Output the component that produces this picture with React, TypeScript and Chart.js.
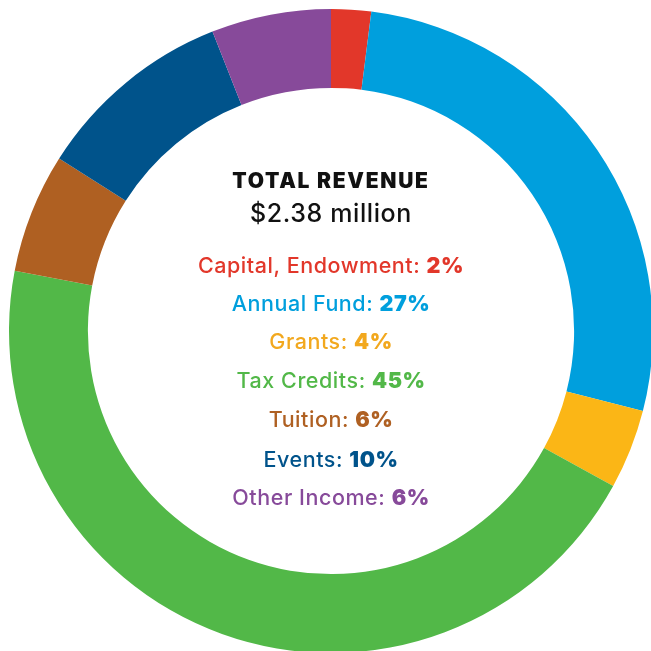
import React, { useEffect, useRef } from "react";
import { Chart, registerables } from "chart.js";

Chart.register(...registerables);

const categories = ["Capital, Endowment", "Annual Fund", "Grants", "Tax Credits", "Tuition", "Events", "Other Income"];
const shares = [2, 27, 4, 45, 6, 10, 6];
const colors = ["#E2372A", "#009FDD", "#FBB616", "#52B848", "#AF6022", "#00538B", "#874A9A"];
const textColors = ["#E2372A", "#009FDD", "#F2A81E", "#52B848", "#AF6022", "#00538B", "#874A9A"];
const title = "TOTAL REVENUE";
const total = "$2.38 million";

const FONT = "Inter, 'Noto Sans', sans-serif";

export default function App() {
  const ref = useRef<HTMLCanvasElement | null>(null);

  useEffect(() => {
    if (!ref.current) return;
    const chart = new Chart(ref.current, {
      type: "doughnut",
      data: {
        labels: categories,
        datasets: [
          {
            data: shares,
            backgroundColor: colors,
            borderWidth: 0,
            hoverOffset: 0,
          },
        ],
      },
      options: {
        animation: false,
        responsive: false,
        cutout: "75.5%",
        layout: { padding: 0 },
        plugins: {
          legend: { display: false },
          tooltip: { enabled: false },
        },
      },
    });
    return () => chart.destroy();
  }, []);

  const lineCenters = [265, 302.5, 341, 380, 419, 458.5, 497];

  return (
    <div
      style={{
        position: "fixed",
        left: 0,
        top: 0,
        width: 651,
        height: 651,
        overflow: "hidden",
        background: "#ffffff",
        fontFamily: FONT,
      }}
    >
      <canvas
        ref={ref}
        width={644}
        height={644}
        style={{ position: "absolute", left: 9, top: 9, width: 644, height: 644 }}
      />
      <div
        style={{
          position: "absolute",
          left: 81,
          width: 500,
          top: 181 - 15,
          textAlign: "center",
          color: "#111",
          fontSize: 21,
          fontWeight: 900,
          letterSpacing: 1.7,
          lineHeight: "30px",
        }}
      >
        {title}
      </div>
      <div
        style={{
          position: "absolute",
          left: 81,
          width: 500,
          top: 213 - 16,
          textAlign: "center",
          color: "#111",
          fontSize: 25,
          fontWeight: 500,
          letterSpacing: 0.6,
          lineHeight: "32px",
        }}
      >
        {total}
      </div>
      {categories.map((c, i) => (
        <div
          key={c}
          style={{
            position: "absolute",
            left: 81,
            width: 500,
            top: lineCenters[i] - 15,
            textAlign: "center",
            color: textColors[i],
            fontSize: 21.5,
            fontWeight: 500,
            letterSpacing: 0.55,
            lineHeight: "30px",
          }}
        >
          {c}: <span style={{ fontWeight: 900 }}>{shares[i]}%</span>
        </div>
      ))}
    </div>
  );
}
